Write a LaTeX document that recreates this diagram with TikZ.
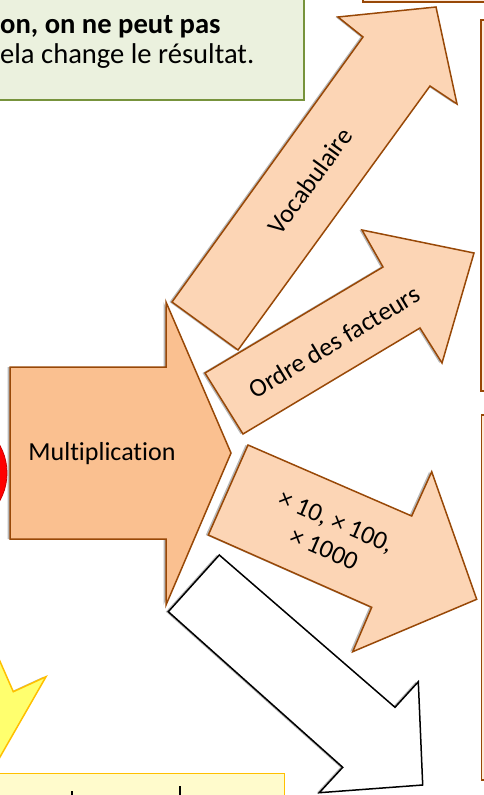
\documentclass[tikz,border=0pt]{standalone}
\usepackage{fontspec}
\setmainfont{Carlito}[Ligatures=NoCommon]
\usetikzlibrary{shadows}
\definecolor{brownline}{RGB}{152,72,7}
\definecolor{multfill}{RGB}{250,192,144}
\definecolor{arrfill}{RGB}{252,213,181}
\definecolor{boxfill}{RGB}{253,234,218}
\definecolor{greenline}{RGB}{119,147,60}
\definecolor{greenfill}{RGB}{235,241,222}
\definecolor{goldline}{RGB}{255,192,0}
\definecolor{yellowfill}{RGB}{255,255,110}
\definecolor{paleyellow}{RGB}{255,251,204}
\begin{document}
\begin{tikzpicture}[x=1pt,y=-1pt,
  shad/.style={drop shadow={shadow xshift=-2.5pt,shadow yshift=0pt,opacity=0.28,fill=black}},
  brownarrow/.style={draw=brownline,line width=1.5pt,fill=arrfill,line join=miter,shad},
  multarrow/.style={draw=brownline,line width=1.5pt,fill=multfill,line join=miter,shad},
  whitearrow/.style={draw=black,line width=1.5pt,fill=white,line join=miter,shad},
  sidebox/.style={draw=brownline,line width=1.5pt,fill=boxfill},
  lbl/.style={font=\fontsize{26}{30}\selectfont,inner sep=0pt,align=center},
  gtxt/.style={font=\fontsize{28.6}{34}\selectfont,inner sep=0pt,anchor=base west}
]
\useasboundingbox (0,0) rectangle (484,795);
\clip (0,0) rectangle (484,795);

% top-left green note
\path[draw=greenline,line width=1.5pt,fill=greenfill,shad] (-20,-20) rectangle (304,100);
\node[gtxt] (g1) at (0,33.5) {\bfseries on, on ne peut pas};
\node[gtxt] (g2) at (0,63.5) {ela change le résultat.};

% top-right box
\path[sidebox] (363,-20) rectangle (500,2);
% right boxes
\path[sidebox] (481,20) rectangle (500,391);
\path[sidebox] (481.5,415) rectangle (500,780);

% red dot
\path[fill=red,draw=red!80!black,line width=0.8pt,shad] (-50,473) circle[radius=57];

% main arrow
\path[multarrow] (10,367) -- (166,367) -- (166,302) -- (231,453) -- (166,605) -- (166,539) -- (10,539) -- cycle;
\node[lbl] (mult) at (102,454) {Multiplication};

% Vocabulaire arrow
\path[brownarrow] (172,302) -- (363,37) -- (338,17) -- (436,7) -- (457,104) -- (430,86) -- (238,350) -- cycle;
\node[lbl,rotate=54] (voc) at (310,181) {Vocabulaire};

% Ordre des facteurs arrow
\path[brownarrow] (205,373) -- (383,267) -- (362,230) -- (474,253) -- (442,363) -- (420,328) -- (243,434) -- cycle;
\node[lbl,rotate=31] (ordre) at (334,342) {Ordre des facteurs};

% x10 arrow
\path[brownarrow] (248,445) -- (411.7,516) -- (431.7,471.7) -- (476.7,599.3) -- (352.7,651.7) -- (371.7,607.3) -- (208.3,535) -- cycle;
\node[lbl,rotate=-23.5] (fois) at (330,535) {× 10, × 100,\\× 1000};

% white arrow
\path[whitearrow] (219.3,555) -- (395,707.3) -- (418.3,681.7) -- (422.7,785) -- (319.3,792.7) -- (342.7,767.3) -- (168.3,611.7) -- cycle;

% yellow arrow (partly visible)
\path[draw=goldline,line width=1.5pt,fill=yellowfill,line join=miter,shad] (-30,600) -- (-5,650) -- (13.3,691.7) -- (46,676.7) -- (0,757) -- (-10,775) -- (-40,700) -- cycle;

% bottom yellow box with the tops of clipped letters
\path[draw=goldline,line width=1.5pt,fill=paleyellow] (-20,773.3) rectangle (284.3,820);
\path[draw=black,line width=1.6pt] (72,791) -- (72,797);
\path[draw=black,line width=2pt] (180,786) -- (180,797);
\end{tikzpicture}
\end{document}
